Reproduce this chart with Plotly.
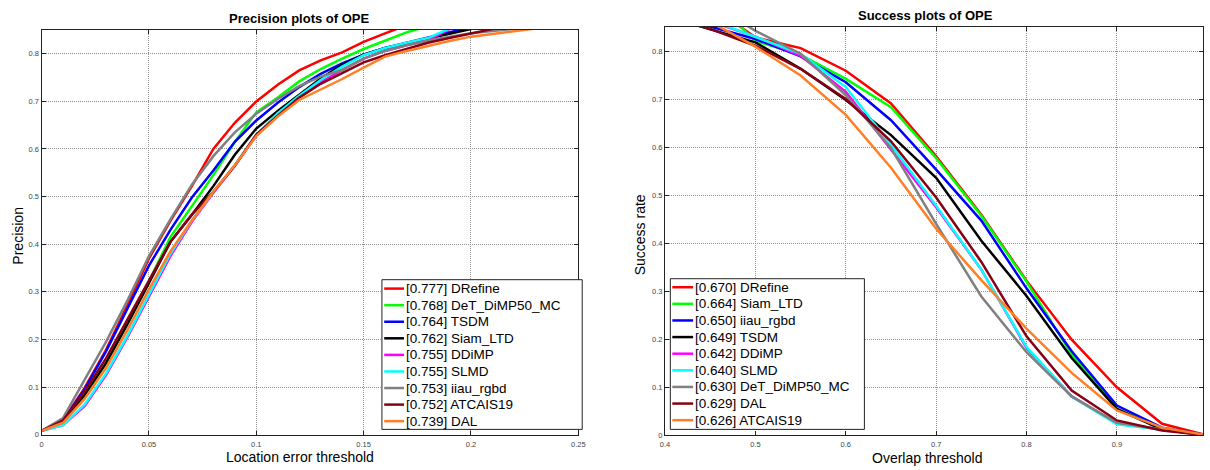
import plotly.graph_objects as go

# ---------------- data ----------------
prec_thresholds = [0.00, 0.01, 0.02, 0.03, 0.04, 0.05, 0.06, 0.07, 0.08, 0.09, 0.10, 0.11, 0.12,
                   0.13, 0.14, 0.15, 0.16, 0.17, 0.18, 0.19, 0.20, 0.21, 0.22, 0.23, 0.24, 0.25]
prec_names = ["DRefine", "DeT_DiMP50_MC", "TSDM", "Siam_LTD", "DDiMP", "SLMD", "iiau_rgbd", "ATCAIS19", "DAL"]
prec_scores = [0.777, 0.768, 0.764, 0.762, 0.755, 0.755, 0.753, 0.752, 0.739]

prec_drefine = [0.008, 0.030, 0.098, 0.178, 0.272, 0.370, 0.449, 0.522, 0.600, 0.655, 0.700, 0.735, 0.765,
                0.786, 0.803, 0.825, 0.843, 0.860, 0.870, 0.878, 0.885, 0.891, 0.896, 0.900, 0.904, 0.907]
prec_det = [0.008, 0.025, 0.080, 0.150, 0.235, 0.322, 0.415, 0.480, 0.545, 0.615, 0.677, 0.708, 0.742,
            0.768, 0.790, 0.810, 0.828, 0.845, 0.858, 0.866, 0.873, 0.879, 0.884, 0.888, 0.892, 0.895]
prec_tsdm = [0.008, 0.030, 0.095, 0.175, 0.265, 0.355, 0.430, 0.498, 0.555, 0.615, 0.660, 0.697, 0.730,
             0.758, 0.780, 0.798, 0.812, 0.823, 0.833, 0.845, 0.856, 0.864, 0.870, 0.875, 0.879, 0.882]
prec_siam = [0.008, 0.028, 0.083, 0.150, 0.232, 0.320, 0.405, 0.462, 0.522, 0.588, 0.643, 0.680, 0.715,
             0.748, 0.777, 0.798, 0.812, 0.822, 0.832, 0.842, 0.852, 0.860, 0.866, 0.871, 0.875, 0.878]
prec_ddimp = [0.008, 0.020, 0.060, 0.125, 0.205, 0.290, 0.375, 0.447, 0.508, 0.565, 0.628, 0.672, 0.710,
              0.740, 0.766, 0.790, 0.806, 0.818, 0.828, 0.852, 0.860, 0.866, 0.871, 0.875, 0.878, 0.881]
prec_slmd = [0.008, 0.020, 0.063, 0.128, 0.208, 0.295, 0.380, 0.450, 0.510, 0.566, 0.630, 0.675, 0.712,
             0.745, 0.773, 0.797, 0.812, 0.823, 0.833, 0.853, 0.862, 0.868, 0.873, 0.877, 0.880, 0.883]
prec_iiau = [0.008, 0.035, 0.115, 0.195, 0.282, 0.375, 0.452, 0.525, 0.585, 0.635, 0.674, 0.705, 0.732,
             0.752, 0.766, 0.790, 0.806, 0.818, 0.828, 0.836, 0.843, 0.848, 0.852, 0.857, 0.860, 0.863]
prec_atcais = [0.008, 0.030, 0.090, 0.160, 0.242, 0.325, 0.405, 0.462, 0.510, 0.565, 0.630, 0.670, 0.708,
               0.737, 0.760, 0.782, 0.797, 0.810, 0.823, 0.833, 0.843, 0.852, 0.860, 0.866, 0.870, 0.874]
prec_dal = [0.008, 0.025, 0.075, 0.140, 0.220, 0.305, 0.385, 0.450, 0.510, 0.566, 0.627, 0.668, 0.703,
            0.725, 0.747, 0.771, 0.794, 0.806, 0.817, 0.827, 0.836, 0.842, 0.848, 0.853, 0.857, 0.860]
prec_series = [prec_drefine, prec_det, prec_tsdm, prec_siam, prec_ddimp, prec_slmd, prec_iiau, prec_atcais, prec_dal]

succ_thresholds = [0.40, 0.45, 0.50, 0.55, 0.60, 0.65, 0.70, 0.75, 0.80, 0.85, 0.90, 0.95, 1.00]
succ_names = ["DRefine", "Siam_LTD", "iiau_rgbd", "TSDM", "DDiMP", "SLMD", "DeT_DiMP50_MC", "DAL", "ATCAIS19"]
succ_scores = [0.670, 0.664, 0.650, 0.649, 0.642, 0.640, 0.630, 0.629, 0.626]

succ_drefine = [0.930, 0.896, 0.828, 0.806, 0.759, 0.691, 0.581, 0.459, 0.322, 0.199, 0.100, 0.024, 0.0]
succ_siam = [0.940, 0.911, 0.821, 0.792, 0.742, 0.683, 0.577, 0.457, 0.320, 0.168, 0.055, 0.013, 0.0]
succ_iiau = [0.880, 0.851, 0.825, 0.789, 0.735, 0.656, 0.553, 0.447, 0.306, 0.175, 0.062, 0.016, 0.0]
succ_tsdm = [0.875, 0.845, 0.818, 0.763, 0.698, 0.625, 0.536, 0.405, 0.290, 0.161, 0.055, 0.012, 0.0]
succ_ddimp = [0.900, 0.862, 0.830, 0.790, 0.715, 0.594, 0.475, 0.345, 0.182, 0.081, 0.025, 0.012, 0.0]
succ_slmd = [0.900, 0.865, 0.830, 0.794, 0.725, 0.605, 0.478, 0.345, 0.184, 0.081, 0.023, 0.012, 0.0]
succ_det = [0.950, 0.900, 0.842, 0.794, 0.708, 0.598, 0.440, 0.289, 0.173, 0.081, 0.026, 0.012, 0.0]
succ_dal = [0.871, 0.846, 0.811, 0.763, 0.700, 0.612, 0.495, 0.361, 0.206, 0.093, 0.031, 0.010, 0.0]
succ_atcais = [0.900, 0.861, 0.809, 0.749, 0.667, 0.557, 0.430, 0.323, 0.222, 0.130, 0.052, 0.016, 0.0]
succ_series = [succ_drefine, succ_siam, succ_iiau, succ_tsdm, succ_ddimp, succ_slmd, succ_det, succ_dal, succ_atcais]

rank_colors = ["#ff0000", "#00ff00", "#0000ff", "#000000", "#ff00ff",
               "#00ffff", "#808080", "#880015", "#ff7f27"]

# ---------------- figure ----------------
W, H = 1210, 470
FONT = "Liberation Sans, Arial, sans-serif"


def px(x):
    return x / W


def py(y):
    return (H - y) / H


fig = go.Figure()

for i, ys in enumerate(prec_series):
    fig.add_trace(go.Scatter(
        x=prec_thresholds, y=ys, mode="lines",
        line=dict(color=rank_colors[i], width=2.5),
        name="[%.3f] %s" % (prec_scores[i], prec_names[i]),
        xaxis="x", yaxis="y", showlegend=False))

for i, ys in enumerate(succ_series):
    fig.add_trace(go.Scatter(
        x=succ_thresholds, y=ys, mode="lines",
        line=dict(color=rank_colors[i], width=2.5),
        name="[%.3f] %s" % (succ_scores[i], succ_names[i]),
        xaxis="x2", yaxis="y2", showlegend=False))

axis_common = dict(
    showgrid=True, gridcolor="#909090", griddash="1px,1px", gridwidth=1,
    showline=True, linecolor="#222222", linewidth=1.2, mirror="ticks",
    ticks="inside", ticklen=4, tickcolor="#222222", zeroline=False,
    tickfont=dict(family=FONT, size=7.5, color="#444444"),
)

fig.update_layout(
    width=W, height=H,
    margin=dict(l=0, r=0, t=0, b=0),
    paper_bgcolor="white", plot_bgcolor="white",
    font=dict(family=FONT, color="black"),
    showlegend=False,
    xaxis=dict(domain=[px(37), px(579)], range=[0, 0.25], tick0=0, dtick=0.05, anchor="y",
               ticklabelstandoff=2, **axis_common),
    yaxis=dict(domain=[py(439.3), py(30.3)], range=[0, 0.85], tick0=0, dtick=0.1, anchor="x", **axis_common),
    xaxis2=dict(domain=[px(666.7), 1.0], range=[0.4, 0.9953], tick0=0.4, dtick=0.1, anchor="y2",
                ticklabelstandoff=2, **axis_common),
    yaxis2=dict(domain=[py(440), py(27.3)], range=[0, 0.85], tick0=0, dtick=0.1, anchor="x2", **axis_common),
)

annotations = [
    dict(text="<b>Precision plots of OPE</b>", x=px(296.5), y=py(19), font=dict(size=13)),
    dict(text="<b>Success plots of OPE</b>", x=px(929.5), y=py(16), font=dict(size=13)),
    dict(text="Location error threshold", x=px(298.3), y=py(462), font=dict(size=14)),
    dict(text="Overlap threshold", x=px(932), y=py(463), font=dict(size=14)),
    dict(text="Precision", x=px(13.3), y=py(238), font=dict(size=14), textangle=-90),
    dict(text="Success rate", x=px(641.7), y=py(237.5), font=dict(size=14), textangle=-90),
]
for a in annotations:
    a.update(xref="paper", yref="paper", showarrow=False, xanchor="center", yanchor="middle")
    a["font"].update(family=FONT, color="black")
    fig.add_annotation(**a)


# ---------------- legends (box, line samples, labels) ----------------
def draw_legend(box, line_x0, line_x1, text_x, first_y, step, names, scores):
    x0, y0, x1, y1 = box
    fig.add_shape(type="rect", xref="paper", yref="paper",
                  x0=px(x0), x1=px(x1), y0=py(y1), y1=py(y0),
                  line=dict(color="#222222", width=1), fillcolor="white", layer="above")
    for i, (n, s) in enumerate(zip(names, scores)):
        yc = first_y + i * step
        fig.add_shape(type="line", xref="paper", yref="paper",
                      x0=px(line_x0), x1=px(line_x1), y0=py(yc), y1=py(yc),
                      line=dict(color=rank_colors[i], width=2.5), layer="above")
        fig.add_annotation(text="[%.3f] %s" % (s, n), xref="paper", yref="paper",
                           x=px(text_x), y=py(yc), xanchor="left", yanchor="middle",
                           showarrow=False, borderpad=0,
                           font=dict(family=FONT, size=13.5, color="black"))


draw_legend((380.7, 282.7, 583, 434), 383, 403, 404.5, 291.7, 16.75, prec_names, prec_scores)
draw_legend((672, 281.7, 868, 434), 674, 695, 696, 290.3, 16.8, succ_names, succ_scores)

fig.write_html("out.html", config={"displayModeBar": False},
               post_script="document.body.style.margin='0';document.body.style.overflow='hidden';")
